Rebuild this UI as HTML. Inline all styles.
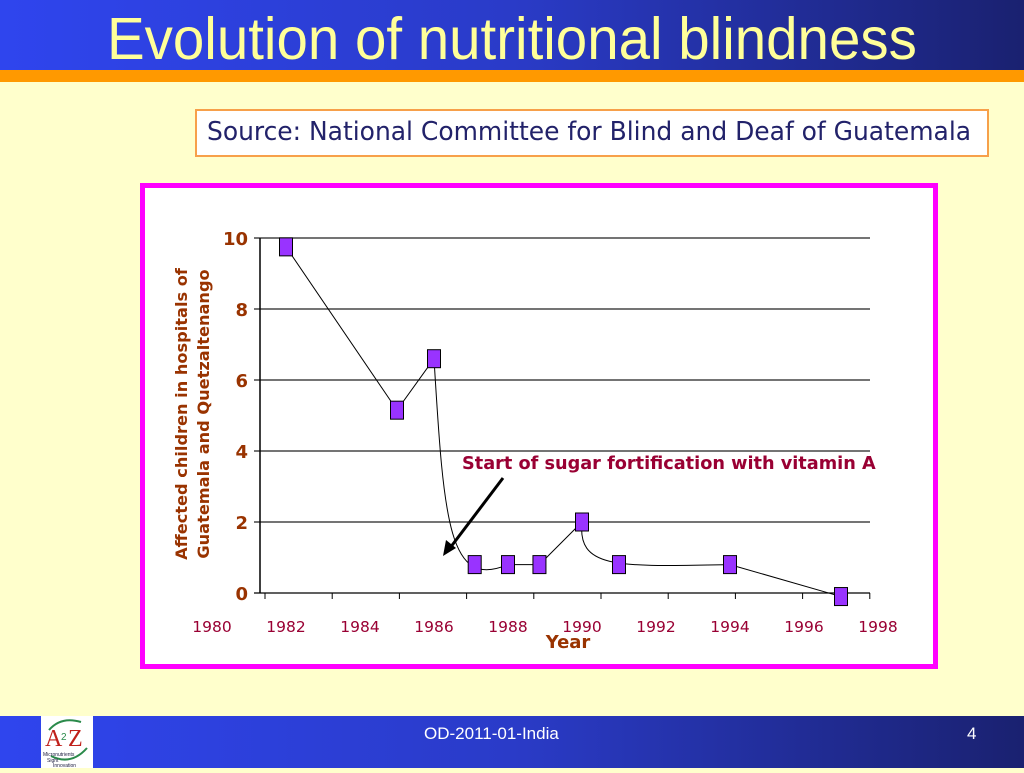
<!DOCTYPE html>
<html><head><meta charset="utf-8"><style>
body{margin:0;width:1024px;height:768px;overflow:hidden;background:#FFFFCC;font-family:"Liberation Sans",sans-serif;position:relative}
#hdr{position:absolute;left:0;top:0;width:1024px;height:70px;background:linear-gradient(90deg,#2f45ee 0%,#2a3bc8 50%,#1a2170 100%)}
#title{position:absolute;left:107px;top:5px;font-size:59px;color:#FFFF99;white-space:nowrap;transform:scaleX(0.957);transform-origin:left top}
#orange{position:absolute;left:0;top:70px;width:1024px;height:12px;background:#FF9900}
#src{position:absolute;left:195px;top:109px;width:790px;height:44px;border:2px solid #F7A04A;background:#fff}
#src span{position:absolute;left:10px;top:6px;font-family:"DejaVu Sans Condensed","Liberation Sans Narrow",sans-serif;font-size:26px;color:#22226a;white-space:nowrap;transform:scaleX(1.067);transform-origin:left top}
#frame{position:absolute;left:140px;top:183px;width:788px;height:476px;border:5px solid #FF00FF;background:#fff}
#ftr{position:absolute;left:0;top:716px;width:1024px;height:52px;background:linear-gradient(90deg,#2f45ee 0%,#2a3bc8 50%,#1a2170 100%)}
#logo{position:absolute;left:41px;top:716px;width:52px;height:52px;background:#fff}
</style></head><body>
<div id="hdr"></div>
<div id="title">Evolution of nutritional blindness</div>
<div id="orange"></div>
<div id="src"><span>Source: National Committee for Blind and Deaf of Guatemala</span></div>
<div id="frame"></div>
<svg id="chart" width="1024" height="768" style="position:absolute;left:0;top:0"></svg>
<div id="ftr"></div>
<div id="logo">
<svg width="52" height="52"><path d="M8 14 Q20 0 40 6" stroke="#2a8a4a" stroke-width="2" fill="none"/><text x="4" y="30" font-family="Liberation Serif" font-size="24" fill="#c0201a">A</text><text x="20" y="24" font-size="10" fill="#2a8a4a">2</text><text x="27" y="30" font-family="Liberation Serif" font-size="24" fill="#c0201a">Z</text><path d="M10 40 Q30 50 46 32" stroke="#2a8a4a" stroke-width="2" fill="none"/><text x="2" y="40" font-size="5" fill="#224">Micronutrients</text><text x="6" y="46" font-size="5" fill="#224">Sight</text><text x="12" y="51" font-size="5" fill="#224">Innovation</text></svg></div>
<div style="position:absolute;left:424px;top:724px;font-size:17px;color:#fff">OD-2011-01-India</div>
<div style="position:absolute;left:967px;top:724px;font-size:17px;color:#fff">4</div>
<script>
const years=[1982,1985,1986,1987.1,1988,1988.85,1990,1991,1994,1997];
const values=[9.75,5.15,6.6,0.8,0.8,0.8,2.0,0.8,0.8,-0.1];
const yTicks=[0,2,4,6,8,10];
const xLabels=[1980,1982,1984,1986,1988,1990,1992,1994,1996,1998];
const svg=document.getElementById('chart');
const NS='http://www.w3.org/2000/svg';
const X=v=>212+(v-1980)*37;
const Y=v=>593-v*35.5;
function mk(t,a,p){const e=document.createElementNS(NS,t);for(const k in a)e.setAttribute(k,a[k]);(p||svg).appendChild(e);return e;}
yTicks.forEach(t=>{
  const g=mk('line',{x1:254,x2:870,y1:Y(t),y2:Y(t),stroke:t===0?'#000':'#222','stroke-width':1.2});
  
  
  const l=mk('text',{x:248,y:Y(t)+7,'text-anchor':'end','font-size':18,'font-weight':'bold',fill:'#993300','font-family':'DejaVu Sans, sans-serif'});
  l.textContent=t;
  
  
});
const ax=mk('line',{x1:260,x2:260,y1:238,y2:593,stroke:'#000','stroke-width':1.5});


for(let i=0;i<10;i++){const tk=mk('line',{x1:265+i*67.2,x2:265+i*67.2,y1:593,y2:599,stroke:'#000'});

}
xLabels.forEach(v=>{const l=mk('text',{x:X(v),y:632,'text-anchor':'middle','font-size':15.5,fill:'#990033','font-family':'DejaVu Sans, sans-serif'});
l.textContent=v;

});
const P=years.map((y,i)=>[X(y),Y(values[i])]);
let d='M'+P[0]+' L'+P[1]+' L'+P[2];
d+=' C'+(P[2][0]+10)+','+(P[4][1]-40)+' '+(P[2][0]+15)+','+(P[4][1]+25)+' '+P[4];
d+=' L'+P[5]+' L'+P[6];
d+=' C'+(P[6][0]-5)+','+(P[7][1]+5)+' '+(P[7][0])+','+(P[7][1]+2)+' '+P[8];
d+=' L'+P[9];
const pl=mk('path',{d:d,stroke:'#000',fill:'none','stroke-width':1});


P.forEach(p=>{const r=mk('rect',{x:p[0]-6.5,y:p[1]-9,width:13,height:18,fill:'#9933FF',stroke:'#000','stroke-width':1});

});
const ar=mk('line',{x1:503,y1:478,x2:450,y2:548,stroke:'#000','stroke-width':3});


const ah=mk('polygon',{points:'443,556 446,540 456,548',fill:'#000'});


const an=mk('text',{x:462,y:469,'font-size':17.7,'font-weight':'bold',fill:'#990033','font-family':'DejaVu Sans, sans-serif'});
an.textContent='Start of sugar fortification with vitamin A';


const xt=mk('text',{x:568,y:648,'text-anchor':'middle','font-size':18,'font-weight':'bold',fill:'#993300','font-family':'DejaVu Sans, sans-serif'});
xt.textContent='Year';


const yt=mk('text',{transform:'translate(187,414) rotate(-90)','text-anchor':'middle','font-size':16.2,'font-weight':'bold',fill:'#993300','font-family':'DejaVu Sans, sans-serif'});


const t1=mk('tspan',{x:0,dy:0},yt);t1.textContent='Affected children in hospitals of';
const t2=mk('tspan',{x:0,dy:22},yt);t2.textContent='Guatemala and Quetzaltenango';
</script>
</body></html>
